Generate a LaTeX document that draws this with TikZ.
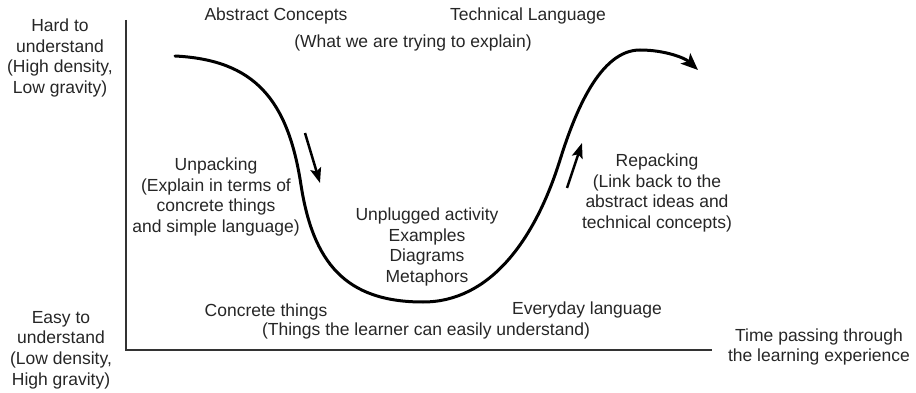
\documentclass[tikz,border=0pt]{standalone}
\usepackage{fontspec}
\setmainfont{Liberation Sans}
\usetikzlibrary{arrows.meta}
\begin{document}
\begin{tikzpicture}[x=1pt,y=-1pt,
  lbl/.style={align=center,inner sep=0pt,font=\fontsize{17.5}{20.7}\selectfont,text=black!85},
  axis/.style={line width=1.5pt,black!80},
  curve/.style={line width=3pt,line cap=round,-{Stealth[length=17pt,width=14pt,inset=4pt]}},
  small/.style={line width=2.5pt,-{Stealth[length=15pt,width=11pt,inset=3pt]}}]
\useasboundingbox (0,0) rectangle (916,393);
% axes
\coordinate (top) at (126,20);
\coordinate (origin) at (126,350);
\coordinate (right) at (712,350);
\draw[axis] (top) -- (origin) -- (right);
% main curve
\coordinate (c0) at (175,56);
\coordinate (c1) at (301,185);
\coordinate (c2) at (423,302);
\coordinate (c3) at (560,160);
\coordinate (c4) at (640,50);
\coordinate (c5) at (698,70);
\draw[curve] (c0) .. controls (255,60) and (288,100) .. (c1)
  .. controls (313,262) and (345,302) .. (c2)
  .. controls (490,302) and (535,240) .. (c3)
  .. controls (575,112) and (600,50) .. (c4)
  .. controls (665,50) and (685,58) .. (c5);
% small arrows
\coordinate (d0) at (305,133);
\coordinate (d1) at (320,183);
\coordinate (u0) at (567,188);
\coordinate (u1) at (582,143);
\draw[small] (d0) -- (d1);
\draw[small] (u0) -- (u1);
% labels
\node[lbl] (hard) at (60,58) {Hard to\\understand\\(High density,\\Low gravity)};
\node[lbl] (easy) at (61,350) {Easy to\\understand\\(Low density,\\High gravity)};
\node[lbl] (abstract) at (276,16) {Abstract Concepts};
\node[lbl] (technical) at (528,16) {Technical Language};
\node[lbl] (what) at (413,43) {(What we are trying to explain)};
\node[lbl] (unpack) at (216,197) {Unpacking\\(Explain in terms of\\concrete things\\and simple language)};
\node[lbl] (unplug) at (427,247) {Unplugged activity\\Examples\\Diagrams\\Metaphors};
\node[lbl] (repack) at (657,193) {Repacking\\(Link back to the\\abstract ideas and\\technical concepts)};
\node[lbl] (concrete) at (266,312) {Concrete things};
\node[lbl] (things) at (426,331) {(Things the learner can easily understand)};
\node[lbl] (everyday) at (587,310) {Everyday language};
\node[lbl] (time) at (819,347) {Time passing through\\the learning experience};
\end{tikzpicture}
\end{document}
